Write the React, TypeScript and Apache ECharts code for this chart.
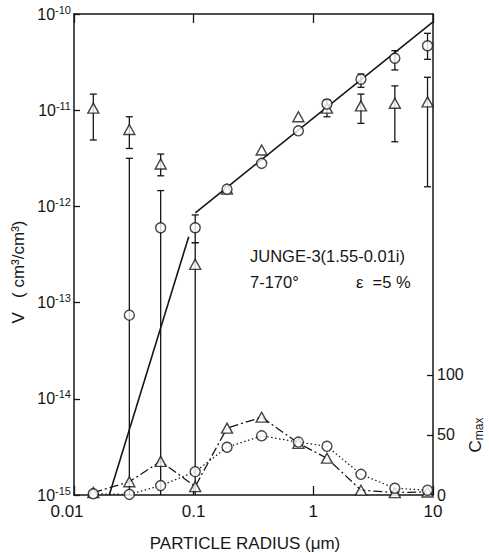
import React, { useEffect, useRef } from "react";
import * as echarts from "echarts";

// particle radius (µm) of each size bin
const radii = [0.0145, 0.029, 0.053, 0.103, 0.19, 0.37, 0.75, 1.3, 2.5, 4.8, 9.0];

// V (cm3/cm3) — triangles with error bars
const vTriangle = [1.05e-11, 6.3e-12, 2.76e-12, 2.5e-13, 1.51e-12, 3.86e-12, 8.55e-12, 1.05e-11, 1.11e-11, 1.18e-11, 1.22e-11];
const vTriangleLow = [4.9e-12, 4.0e-12, 2.08e-12, 1e-15, null, null, null, 8.55e-12, 7.3e-12, 4.7e-12, 1.6e-12];
const vTriangleHigh = [1.47e-11, 8.55e-12, 3.5e-12, 4.2e-13, null, null, null, 1.28e-11, 1.47e-11, 1.79e-11, 2.2e-11];

// V (cm3/cm3) — circles with error bars
const vCircle = [null, 7.4e-14, 6.0e-13, 6.0e-13, 1.51e-12, 2.8e-12, 6.1e-12, 1.16e-11, 2.1e-11, 3.47e-11, 4.68e-11];
const vCircleLow = [null, 1e-15, 1e-15, 4.2e-13, null, null, null, null, 1.73e-11, 2.62e-11, 3.38e-11];
const vCircleHigh = [null, 3.16e-12, 1.46e-12, 8.15e-13, null, null, null, null, 2.38e-11, 4.16e-11, 6.3e-11];

// Junge-3 size distribution lines
const fitSmallR = [0.0197, 0.0909];
const fitSmallV = [1e-15, 4.84e-13];
const fitLargeR = [0.1033, 10];
const fitLargeV = [8.57e-13, 8.3e-11];

// C_max (right axis)
const cTriangle = [2, 11, 28, 7, 55.6, 64.7, 43, 30.6, 4, 2, 2.5];
const cCircle = [1, 0.5, 7.8, 19.4, 39.7, 49.2, 44, 40.5, 17.2, 5.6, 4];

// tick labels
const xTickLabels = ["0.01", "0.1", "1", "10"];
const cTickValues = [0, 50, 100];

const FONT = "Liberation Sans";
const INK = "#161616";

function pairs(xs: number[], ys: (number | null)[]) {
  const out: number[][] = [];
  xs.forEach((x, i) => {
    const y = ys[i];
    if (y !== null && y !== undefined) out.push([x, y]);
  });
  return out;
}

function errRows(xs: number[], lo: (number | null)[], hi: (number | null)[]) {
  const out: number[][] = [];
  xs.forEach((x, i) => {
    const l = lo[i];
    const h = hi[i];
    if (l !== null && h !== null && l !== undefined && h !== undefined) out.push([x, l, h]);
  });
  return out;
}

function errorBarItem(params: any, api: any) {
  const x = api.value(0);
  const lo = api.value(1);
  const hi = api.value(2);
  const pHi = api.coord([x, hi]);
  const pLo = api.coord([x, lo]);
  const style = { stroke: INK, lineWidth: 1.3 };
  const children: any[] = [
    { type: "line", shape: { x1: pHi[0], y1: pHi[1], x2: pLo[0], y2: pLo[1] }, style },
    { type: "line", shape: { x1: pHi[0] - 3.5, y1: pHi[1], x2: pHi[0] + 3.5, y2: pHi[1] }, style },
  ];
  if (lo > 1.01e-15) {
    children.push({ type: "line", shape: { x1: pLo[0] - 3.5, y1: pLo[1], x2: pLo[0] + 3.5, y2: pLo[1] }, style });
  }
  return { type: "group", children };
}

export default function App() {
  const ref = useRef<HTMLDivElement>(null);

  useEffect(() => {
    if (!ref.current) return;
    const chart = echarts.init(ref.current, null, { renderer: "svg" });
    const axisLineStyle = { color: INK, width: 1.5 };
    const markerStyle = { color: "#ffffff", borderColor: INK, borderWidth: 1.4 };

    const option: any = {
      animation: false,
      backgroundColor: "#ffffff",
      textStyle: { fontFamily: FONT, color: INK },
      grid: { left: 74, top: 14, width: 359, height: 481, containLabel: false },
      xAxis: [
        {
          type: "log",
          logBase: 10,
          min: 0.01,
          max: 10,
          position: "bottom",
          axisLine: { show: true, lineStyle: axisLineStyle },
          axisTick: { show: true, inside: true, length: 9, lineStyle: { color: INK, width: 1.3 } },
          minorTick: { show: false },
          splitLine: { show: false },
          axisLabel: {
            margin: 8,
            fontSize: 17,
            fontFamily: FONT,
            color: INK,
            formatter: (v: number) => {
              const e = Math.round(Math.log10(v)) + 2;
              const t = xTickLabels[e] ?? "";
              return e === 0 ? "{f|" + t + "}" : t;
            },
            rich: { f: { fontSize: 17, fontFamily: FONT, color: INK, padding: [0, 14, 0, 0] } },
          },
        },
        {
          type: "log",
          logBase: 10,
          min: 0.01,
          max: 10,
          position: "top",
          axisLine: { show: true, lineStyle: axisLineStyle },
          axisTick: { show: true, inside: true, length: 9, lineStyle: { color: INK, width: 1.3 } },
          minorTick: { show: false },
          splitLine: { show: false },
          axisLabel: { show: false },
        },
      ],
      yAxis: [
        {
          type: "log",
          logBase: 10,
          min: 1e-15,
          max: 1e-10,
          position: "left",
          axisLine: { show: true, lineStyle: axisLineStyle },
          axisTick: { show: true, inside: true, length: 6, lineStyle: { color: INK, width: 1.3 } },
          minorTick: { show: false },
          splitLine: { show: false },
          axisLabel: {
            margin: 3,
            formatter: (v: number) => {
              const e = Math.round(Math.log10(v));
              return "{b|10}{s|" + e + "}";
            },
            rich: {
              b: { fontSize: 16, fontFamily: FONT, color: INK },
              s: { fontSize: 11, fontFamily: FONT, color: INK, padding: [0, 0, 9, 0] },
            },
          },
        },
        {
          type: "value",
          min: 0,
          max: 400,
          position: "right",
          axisLine: { show: true, lineStyle: axisLineStyle },
          axisTick: { show: true, inside: true, length: 6, customValues: cTickValues, lineStyle: { color: INK, width: 1.3 } },
          splitLine: { show: false },
          axisLabel: { margin: 4, fontSize: 16, fontFamily: FONT, color: INK, customValues: cTickValues },
        },
      ],
      series: [
        {
          type: "custom",
          name: "triangle error",
          renderItem: errorBarItem,
          data: errRows(radii, vTriangleLow, vTriangleHigh),
          encode: { x: 0, y: [1, 2] },
          z: 2,
          silent: true,
        },
        {
          type: "custom",
          name: "circle error",
          renderItem: errorBarItem,
          data: errRows(radii, vCircleLow, vCircleHigh),
          encode: { x: 0, y: [1, 2] },
          z: 2,
          silent: true,
        },
        {
          type: "line",
          name: "Junge small",
          data: pairs(fitSmallR, fitSmallV),
          showSymbol: false,
          lineStyle: { color: INK, width: 1.6 },
          z: 3,
        },
        {
          type: "line",
          name: "Junge large",
          data: pairs(fitLargeR, fitLargeV),
          showSymbol: false,
          lineStyle: { color: INK, width: 1.6 },
          z: 3,
        },
        {
          type: "line",
          name: "Cmax triangle",
          yAxisIndex: 1,
          data: pairs(radii, cTriangle),
          showSymbol: false,
          lineStyle: { color: INK, width: 1.3, type: [9, 3, 2, 3] },
          z: 3,
        },
        {
          type: "line",
          name: "Cmax circle",
          yAxisIndex: 1,
          data: pairs(radii, cCircle),
          showSymbol: false,
          lineStyle: { color: INK, width: 1.2, type: [1.5, 2.5] },
          z: 3,
        },
        {
          type: "scatter",
          name: "V triangle",
          data: pairs(radii, vTriangle),
          symbol: "triangle",
          symbolSize: [11, 10],
          itemStyle: markerStyle,
          z: 5,
        },
        {
          type: "scatter",
          name: "V circle",
          data: pairs(radii, vCircle),
          symbol: "circle",
          symbolSize: 10,
          itemStyle: markerStyle,
          z: 6,
        },
        {
          type: "scatter",
          name: "C triangle",
          yAxisIndex: 1,
          data: pairs(radii, cTriangle),
          symbol: "triangle",
          symbolSize: [11, 10],
          itemStyle: markerStyle,
          z: 5,
        },
        {
          type: "scatter",
          name: "C circle",
          yAxisIndex: 1,
          data: pairs(radii, cCircle),
          symbol: "circle",
          symbolSize: 10,
          itemStyle: markerStyle,
          z: 6,
        },
      ],
      graphic: [
        {
          type: "text",
          x: 18,
          y: 272,
          rotation: Math.PI / 2,
          style: { text: "V   ( cm³/cm³)", fontSize: 17, fontFamily: FONT, fill: INK, align: "center", verticalAlign: "middle" },
        },
        {
          type: "text",
          x: 475,
          y: 435,
          rotation: Math.PI / 2,
          style: {
            text: "{c|C}{m|max}",
            align: "center",
            verticalAlign: "middle",
            rich: {
              c: { fontSize: 17, fontFamily: FONT, fill: INK },
              m: { fontSize: 12, fontFamily: FONT, fill: INK, padding: [8, 0, 0, 0] },
            },
          },
        },
        {
          type: "text",
          x: 250,
          y: 256,
          style: { text: "JUNGE-3(1.55-0.01i)", fontSize: 16.5, fontFamily: FONT, fill: INK, align: "left", verticalAlign: "middle" },
        },
        {
          type: "text",
          x: 250,
          y: 282,
          style: { text: "7-170°", fontSize: 16.5, fontFamily: FONT, fill: INK, align: "left", verticalAlign: "middle" },
        },
        {
          type: "text",
          x: 356,
          y: 282,
          style: { text: "ε  =5 %", fontSize: 16.5, fontFamily: FONT, fill: INK, align: "left", verticalAlign: "middle" },
        },
        {
          type: "text",
          x: 245,
          y: 543,
          style: { text: "PARTICLE RADIUS (μm)", fontSize: 17, fontFamily: FONT, fill: INK, align: "center", verticalAlign: "middle" },
        },
      ],
    };

    chart.setOption(option);
    return () => chart.dispose();
  }, []);

  return (
    <div
      ref={ref}
      style={{ position: "fixed", left: 0, top: 0, width: 489, height: 553, background: "#fff" }}
    />
  );
}
